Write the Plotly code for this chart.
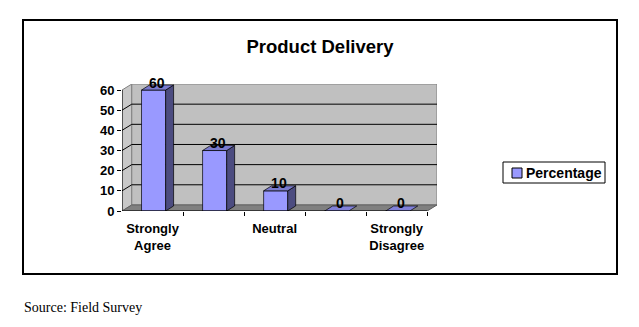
import plotly.graph_objects as go

# ---------------- data ----------------
categories = ["Strongly Agree", "Agree", "Neutral", "Disagree", "Strongly Disagree"]
values = [60, 30, 10, 0, 0]
tick_labels = ["Strongly<br>Agree", "", "Neutral", "", "Strongly<br>Disagree"]
y_ticks = [0, 10, 20, 30, 40, 50, 60]
series_name = "Percentage"
title_text = "Product Delivery"
source_text = "Source: Field Survey"

# ---------------- style / geometry ----------------
FONT = "Liberation Sans, Arial, sans-serif"
BAR_FRONT = "#9999FF"
BAR_TOP = "#7A7ACC"
BAR_SIDE = "#4C4C80"
WALL_BACK = "#C0C0C0"
WALL_LEFT = "#C8C8C8"
FLOOR = "#808080"

n = len(categories)
xs = list(range(n))
WALL_DX, WALL_DY = 0.16, 3.0      # depth of walls (data units)
BAR_OFF, BAR_W = -0.18, 0.395     # bar front face offset / width
BAR_DX, BAR_DY = 0.13, 2.5        # bar depth
x0, x1 = -0.5, n - 0.5
ymax = y_ticks[-1]

W, H = 639, 327
L, R, T, B = 122, 639 - 437, 84, 327 - 211
pw, ph = W - L - R, H - T - B


def px2paper_x(px):
    return (px - L) / pw


def px2paper_y(py):
    return (H - B - py) / ph


fig = go.Figure()

# front faces of bars
fig.add_trace(go.Bar(
    x=xs, y=values, width=BAR_W, offset=BAR_OFF,
    marker=dict(color=BAR_FRONT, line=dict(color="#000000", width=0.7)),
    name=series_name, showlegend=False, hoverinfo="skip",
))

# side and top faces of bars
for i, v in zip(xs, values):
    xl = i + BAR_OFF
    xr = xl + BAR_W
    if v > 0:
        fig.add_trace(go.Scatter(
            x=[xr, xr + BAR_DX, xr + BAR_DX, xr, xr],
            y=[0, BAR_DY, v + BAR_DY, v, 0],
            fill="toself", fillcolor=BAR_SIDE, mode="lines",
            line=dict(color="#000000", width=0.7),
            showlegend=False, hoverinfo="skip"))
    fig.add_trace(go.Scatter(
        x=[xl, xr, xr + BAR_DX, xl + BAR_DX, xl],
        y=[v, v, v + BAR_DY, v + BAR_DY, v],
        fill="toself", fillcolor=BAR_TOP if v > 0 else "#8080D8", mode="lines",
        line=dict(color="#000000", width=0.7),
        showlegend=False, hoverinfo="skip"))

# data labels
fig.add_trace(go.Scatter(
    x=[i + 0.07 for i in xs], y=[v + WALL_DY for v in values],
    mode="text", text=[str(v) for v in values], textposition="middle center",
    textfont=dict(family=FONT, size=14, color="#000000", weight="bold"),
    cliponaxis=False, showlegend=False, hoverinfo="skip"))

shapes = []
shapes.append(dict(type="path", layer="below", xref="x", yref="y",
                   path=f"M{x0},0 L{x0 + WALL_DX},{WALL_DY} L{x0 + WALL_DX},{ymax + WALL_DY} L{x0},{ymax} Z",
                   fillcolor=WALL_LEFT, line=dict(color="#808080", width=1)))
shapes.append(dict(type="path", layer="below", xref="x", yref="y",
                   path=f"M{x0 + WALL_DX},{WALL_DY} L{x1 + WALL_DX},{WALL_DY} L{x1 + WALL_DX},{ymax + WALL_DY} L{x0 + WALL_DX},{ymax + WALL_DY} Z",
                   fillcolor=WALL_BACK, line=dict(color="#808080", width=1)))
for t in y_ticks[1:-1]:
    shapes.append(dict(type="line", layer="below", xref="x", yref="y",
                       x0=x0 + WALL_DX, x1=x1 + WALL_DX, y0=t + WALL_DY, y1=t + WALL_DY,
                       line=dict(color="#000000", width=1)))
    shapes.append(dict(type="line", layer="below", xref="x", yref="y",
                       x0=x0, x1=x0 + WALL_DX, y0=t, y1=t + WALL_DY,
                       line=dict(color="#000000", width=1)))
shapes.append(dict(type="path", layer="below", xref="x", yref="y",
                   path=f"M{x0},0 L{x1},0 L{x1 + WALL_DX},{WALL_DY} L{x0 + WALL_DX},{WALL_DY} Z",
                   fillcolor=FLOOR, line=dict(color="#606060", width=1)))
shapes.append(dict(type="line", xref="x", yref="y", x0=x0, x1=x0, y0=0, y1=ymax,
                   line=dict(color="#000000", width=1)))
shapes.append(dict(type="line", xref="x", yref="y", x0=x0, x1=x1, y0=0, y1=0,
                   line=dict(color="#000000", width=1)))
# outer border
shapes.append(dict(type="rect", xref="paper", yref="paper",
                   x0=px2paper_x(23), x1=px2paper_x(617), y0=px2paper_y(274), y1=px2paper_y(20),
                   line=dict(color="#000000", width=2), fillcolor="rgba(0,0,0,0)"))
# legend box
shapes.append(dict(type="rect", xref="paper", yref="paper",
                   x0=px2paper_x(503), x1=px2paper_x(605), y0=px2paper_y(183), y1=px2paper_y(162),
                   line=dict(color="#000000", width=1), fillcolor="#FFFFFF"))
shapes.append(dict(type="rect", xref="paper", yref="paper",
                   x0=px2paper_x(512), x1=px2paper_x(522), y0=px2paper_y(178), y1=px2paper_y(168),
                   line=dict(color="#000000", width=1), fillcolor=BAR_FRONT))

annotations = [
    dict(text=series_name, xref="paper", yref="paper", x=px2paper_x(524), y=px2paper_y(172.5),
         xanchor="left", yanchor="middle", showarrow=False,
         font=dict(family=FONT, size=14, color="#000000", weight="bold")),
    dict(text=source_text, xref="paper", yref="paper", x=px2paper_x(22), y=px2paper_y(307),
         xanchor="left", yanchor="middle", showarrow=False,
         font=dict(family="Liberation Serif, Times New Roman, serif", size=14, color="#000000")),
]

fig.update_layout(
    width=W, height=H, autosize=False,
    margin=dict(l=L, r=R, t=T, b=B, pad=0),
    paper_bgcolor="#FFFFFF", plot_bgcolor="#FFFFFF",
    title=dict(text=f"<b>{title_text}</b>", x=320 / W, xanchor="center",
               y=1 - 47 / H, yanchor="middle",
               font=dict(family=FONT, size=18.5, color="#000000")),
    shapes=shapes, annotations=annotations,
    showlegend=False,
    xaxis=dict(range=[x0, x1 + WALL_DX], tickmode="array", tickvals=xs, ticktext=tick_labels,
               ticks="", showgrid=False, zeroline=False, showline=False,
               ticklabelstandoff=8,
               tickfont=dict(family=FONT, size=13, color="#000000", weight="bold"),
               minor=dict(tickmode="array", tickvals=[i + 0.5 for i in xs], ticks="outside",
                          ticklen=4, tickcolor="#000000", tickwidth=1, showgrid=False),
               fixedrange=True),
    yaxis=dict(range=[0, ymax + WALL_DY], tickmode="array", tickvals=y_ticks,
               ticks="outside", ticklen=4, tickcolor="#000000", tickwidth=1,
               showgrid=False, zeroline=False, showline=False,
               tickfont=dict(family=FONT, size=13, color="#000000", weight="bold"),
               fixedrange=True),
)

fig.write_html("out.html", config={"displayModeBar": False})
